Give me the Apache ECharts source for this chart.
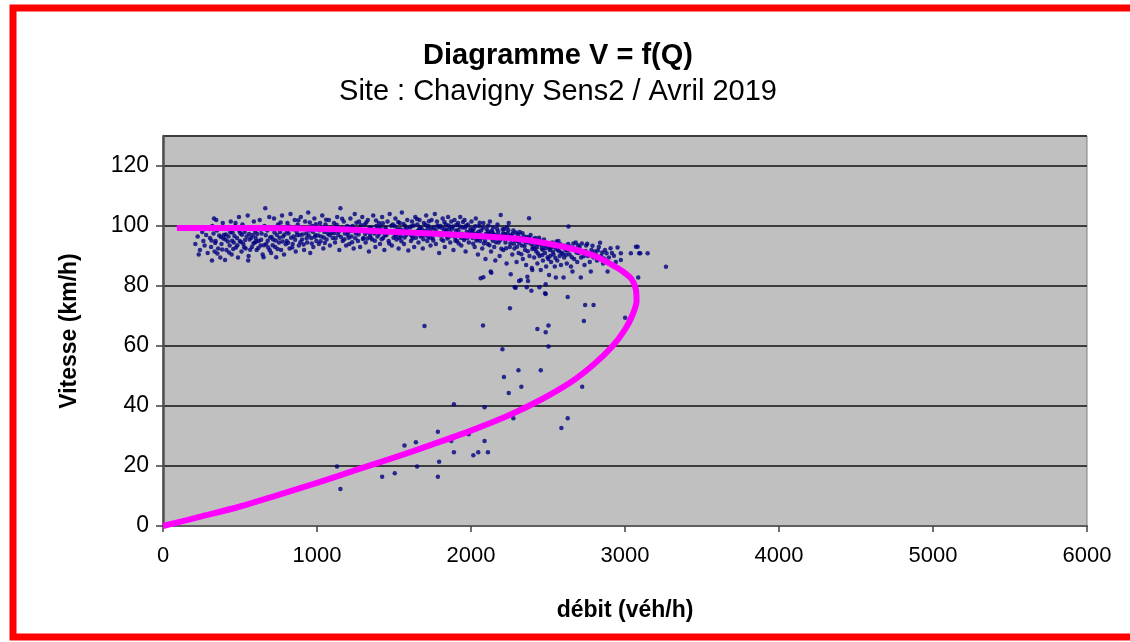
<!DOCTYPE html>
<html>
<head>
<meta charset="utf-8">
<title>Diagramme V = f(Q)</title>
<script src="https://cdn.jsdelivr.net/npm/echarts@6/dist/echarts.min.js"></script>
<style>
  html, body { margin: 0; padding: 0; background: #fff; }
  #chart { width: 1130px; height: 642px; }
</style>
</head>
<body>
<div id="chart"></div>
<script>
// axes
var xTicks = [0, 1000, 2000, 3000, 4000, 5000, 6000];
var yTicks = [0, 20, 40, 60, 80, 100, 120];

// mesures : [débit (véh/h), vitesse (km/h)] - nuage fluide
var freeFlowPoints = [
  [210,94],[225,96.5],[240,92],[255,98],[262,95],[270,93.5],[280,97],[290,91],[295,99.5],[232,90.5],
  [305,96],[312,93],[320,100],[328,97.5],[335,91.5],[342,95],[350,98.5],[358,92.5],[365,96.8],[372,89.5],[380,94],[388,101],[395,97],[318,88.5],[346,102],
  [403,88.7],[405,95.5],[412,92],[418,99],[425,96.5],[433,93.5],[440,101.5],[446,90.5],[452,97.8],[460,94.5],[468,99.8],[474,92.8],[480,96],[487,89.5],[493,103],[498,95],
  [503,97.5],[510,91.5],[516,100.5],[522,94],[530,98],[537,92.5],[543,96.5],[550,103.5],[556,90],[562,95.5],[570,99],[577,93],[584,97],[590,101.5],[596,94.5],[553,88.5],
  [602,96],[608,92],[615,99.5],[621,95],[628,102],[634,93.5],[640,97.5],[647,90.5],[653,89.6],[659,100],[664,105.9],[670,94],[677,98.5],[683,92.8],[690,103],[696,96.2],
  [702,91],[708,99],[715,95.5],[721,102.5],[728,93],[735,89.6],[740,97],[747,100.5],[753,94.5],[760,98],[767,92],[773,103.5],[780,96.5],[786,90.5],[793,99.5],
  [803,95],[808,101],[815,97.5],[822,92.5],[828,104],[835,99],[842,94],[848,96.5],[855,102],[862,91.5],[868,98],[875,100.5],[882,93.5],[888,97],[895,103],
  [903,95.5],[910,99.5],[916,92],[923,101.5],[930,97.5],[936,94.5],[943,104.5],[950,98.5],[956,91],[963,96],[970,100],[976,93],[983,102.5],[990,97],[996,95],
  [1005,99],[1012,94],[1020,101],[1027,96.5],[1034,103.5],[1041,92.5],[1048,98],[1055,100.5],[1062,95.5],[1070,97.5],[1077,102],[1084,93.5],[1092,99.5],
  [1102,96],[1110,101],[1117,94.5],[1124,98.5],[1131,103],[1138,97],[1145,92],[1152,105.9],[1160,99.5],[1167,95],[1174,101.5],[1181,97.5],[1189,93.5],[1196,100],
  [1203,98],[1210,94],[1217,102.5],[1224,96.5],[1231,100],[1238,92.5],[1245,104],[1252,97.5],[1259,99],[1266,95],[1273,101.5],[1280,93],[1287,98.5],[1294,103],
  [1302,96],[1309,100.5],[1316,94.5],[1323,98],[1330,102],[1337,91.5],[1344,97],[1351,99.5],[1358,95.5],[1365,103.5],[1372,97.5],[1379,93],[1386,100],[1393,96.5],
  [1402,101],[1409,94],[1416,98.5],[1423,103],[1430,96],[1437,92],[1444,99.5],[1451,97],[1458,101.5],[1465,95],[1472,104],[1479,98],[1486,93.5],[1493,100.5],
  [1502,97.5],[1509,102.5],[1516,95.5],[1523,99],[1530,92.5],[1537,101],[1544,96.5],[1551,104.5],[1558,98.5],[1565,94],[1572,100],[1579,97],[1586,102],[1593,91.8],
  [1603,99.5],[1610,95],[1617,101.5],[1624,97.5],[1631,93],[1638,103],[1645,98],[1652,100.5],[1659,94.5],[1666,102],[1673,96.5],[1680,99],[1687,92.5],[1694,101],
  [1702,97],[1709,103.5],[1716,95],[1723,100],[1730,98],[1737,93.5],[1744,102],[1751,96],[1758,99.5],[1765,104],[1772,94],[1779,101.5],[1786,97.5],[1793,91],
  [1802,100],[1809,95.5],[1816,102.5],[1823,98],[1830,93],[1837,100.5],[1844,96.5],[1851,103],[1858,99],[1865,94.5],[1872,101.5],[1879,97],[1886,92],[1893,102],
  [1902,98.5],[1909,95],[1916,101],[1923,97],[1930,103],[1937,93.5],[1944,99.5],[1951,96],[1958,102],[1965,91.5],[1972,98],[1979,100.5],[1986,94.5],[1993,97.5],
  [2003,101.5],[2010,96],[2017,99],[2024,93],[2031,102.5],[2038,97.5],[2045,90.5],[2052,100],[2059,95],[2066,98.5],[2073,92.5],[2080,101],[2087,96.5],[2094,89],
  [2102,99],[2109,94],[2116,97.5],[2123,101.5],[2130,91.5],[2137,96],[2144,99.5],[2151,93],[2158,88.5],[2165,97],[2172,100.5],[2179,94.5],[2186,90],[2193,103.7],
  [2203,96.5],[2210,92],[2217,99],[2224,94.5],[2231,87.5],[2238,97.5],[2245,101],[2252,93],[2261,95.5],[2268,90.5],[2275,98.5],[2282,92.5],[2289,96],[2296,88],
  [2302,95],[2309,91],[2316,98],[2330,93.5],[2337,89],[2344,96.5],[2351,92],[2358,87],[2372,94.5],[2377,102.6],[2380,90],[2387,97],[2395,86],
  [2403,93],[2410,89.5],[2417,96],[2424,91.5],[2431,87.5],[2438,94],[2445,90],[2460,92.5],[2467,88.5],[2474,95.5],[2481,91],[2488,86.5],[2495,93.5],
  [2502,89],[2512,92],[2520,88],[2528,94.5],[2536,90.5],[2544,86.5],[2552,92.5],[2560,88.5],[2568,95],[2576,90],[2584,87],[2592,93],
  [2605,89.5],[2614,92],[2622,87.5],[2631,94],[2633,99.8],[2640,90.5],[2649,86.5],[2660,92.5],[2670,89],[2680,94.5],[2690,88],[2698,91],
  [2705,93],[2715,89.5],[2726,91.5],[2737,87],[2748,93.5],[2760,90],[2771,88],[2782,92],[2795,89.5],
  [2805,91.5],[2818,88.5],[2830,93],[2845,90],[2858,87.5],[2870,92],[2895,89.5],
  [2915,91],[2940,88],[2973,88.7],[2973,90.9],[3038,90.9],[3071,93.1],[3082,93.1],[3092,90.9],[3099,90.9],[3147,90.9]
];

// mesures : nuage fluide, cœur dense
var freeFlowCore = [
  [302,99],[315,95.2],[331,102.5],[339,94.3],[353,90.8],[361,99.6],[376,96.3],[384,92.2],[392,95.8],
  [408,97.2],[421,94.8],[429,91.2],[437,97.9],[449,95.1],[456,92.3],[464,96.7],[471,101],[483,93.6],[496,98.3],
  [506,94.7],[513,97.1],[527,92.9],[533,95.3],[546,99.2],[559,97.3],[566,92.1],[573,96.1],[587,94.2],[599,98.1],
  [605,94.8],[612,97.3],[619,92.7],[631,98.8],[637,95.4],[644,99.1],[656,93.6],[667,96.9],[680,95.1],[693,91.9],
  [705,96.3],[712,93.6],[724,97.8],[731,95.2],[744,92.3],[757,96.1],[764,101.2],[776,94.8],[789,97.2],[797,93.9],
  [806,98.2],[812,94.4],[819,99.8],[832,96.1],[839,92.8],[852,98.9],[858,95.4],[871,96.9],[879,101.9],[892,94.6],
  [906,97.2],[913,93.8],[926,99.1],[933,95.9],[946,96.8],[953,101.2],[966,94.2],[973,98.1],[986,96.3],[993,100.6],
  [1008,96.8],[1016,98.6],[1023,94.9],[1031,99.6],[1044,96.2],[1051,94.3],[1059,102.1],[1066,98.8],[1081,96.9],[1095,97.6],
  [1106,99.2],[1113,97.6],[1121,95.9],[1128,100.4],[1142,98.2],[1156,96.3],[1163,102.4],[1178,95.6],[1185,99.1],[1199,97.1],
  [1206,96.1],[1213,99.7],[1221,98.3],[1228,94.6],[1242,99.1],[1249,95.9],[1256,101.1],[1270,97.2],[1284,100.3],[1298,95.7],
  [1305,98.4],[1313,97.3],[1320,101.2],[1327,95.8],[1341,99.4],[1348,96.2],[1362,98.7],[1376,95.1],[1383,101.8],[1397,98.9],
  [1405,97.4],[1413,99.8],[1420,95.6],[1427,100.9],[1441,96.8],[1448,98.8],[1462,97.9],[1469,94.2],[1483,100.1],[1497,96.1],
  [1505,99.9],[1512,96.7],[1520,97.3],[1527,101.3],[1541,98.9],[1548,94.9],[1562,100.7],[1569,96.2],[1583,99.3],[1597,97.8],
  [1606,97.2],[1614,99.9],[1621,95.8],[1628,100.2],[1642,96.1],[1649,102.3],[1656,98.4],[1670,99.6],[1684,96.8],[1698,98.3],
  [1705,100.4],[1713,97.9],[1720,96.4],[1727,101.6],[1741,99.1],[1748,97.1],[1755,95.2],[1769,98.6],[1783,100.2],[1797,96.9],
  [1806,97.4],[1813,99.3],[1820,95.1],[1827,101.3],[1841,98.3],[1848,95.8],[1855,100.2],[1869,97.7],[1883,99.8],[1897,96.2],
  [1905,100.3],[1913,97.1],[1920,94.2],[1927,99.8],[1941,97.4],[1948,101.3],[1955,95.3],[1969,100.1],[1983,96.7],[1997,99.2],
  [2006,98.4],[2014,94.1],[2021,97.2],[2028,99.9],[2042,95.6],[2049,98.1],[2056,101.1],[2070,96.1],[2084,94.2],[2098,97.4],
  [2106,96.8],[2113,100.2],[2120,93.6],[2134,98.4],[2141,95.1],[2148,97.2],[2162,94.6],[2169,99.1],[2183,96.8],[2197,92.4],
  [2206,98.9],[2214,95.8],[2221,97.3],[2228,92.6],[2235,99.7],[2249,96.3],[2256,94.2],[2270,97.4],[2285,95.2],[2299,93.1],
  [2305,97.2],[2313,94.3],[2320,96.1],[2327,90.6],[2341,95.2],[2348,93.3],[2362,96.3],[2369,91.6],[2383,94.8],[2398,92.3],
  [2406,95.6],[2414,92.4],[2421,94.1],[2435,90.8],[2442,96.1],[2456,93.7],[2463,90.3],[2470,94.6],[2484,92.6],[2498,89.6],
  [2505,94.1],[2516,90.1],[2524,92.9],[2540,93.2],[2548,89.3],[2556,94.8],[2572,91.6],[2580,93.9],[2596,90.7],
  [2608,93.4],[2618,90.4],[2627,91.8],[2645,93.1],[2655,89.6],[2665,94.2],[2685,91.2],[2695,93.6],
  [2710,91.3],[2720,94.2],[2732,89.9],[2744,91.7],[2755,94.1],[2766,90.8],[2789,93.4],
  [2812,90.3],[2824,91.8],[2838,94.4],[2852,91.2],[2864,89.2],[2880,90.9],
  [2906,92.6],[2928,90.1],[2952,92.8],
  [1511,98.1],[1534,95.9],[1575,98.6],[1618,96.6],[1663,98.9],[1691,95.6],[1718,99.3],[1734,96.1],[1762,97.6],[1790,99.6],
  [1811,96.9],[1834,98.9],[1862,96.6],[1876,99.1],[1899,95.1],[1918,98.6],[1934,96.1],[1962,99.4],[1976,95.9],[1991,98.2],
  [2012,97.8],[2035,95.2],[2061,97.1],[2077,99.4],[2091,95.1],[2111,98.1],[2139,97.9],[2155,96.1],[2176,98.2],[2190,95.3],
  [2208,97.6],[2226,95.9],[2242,98.6],[2259,96.9],[2278,94.1],[2292,97.8],[2318,95.4],[2334,97.6],[2355,94.6],[2376,96.1],
  [2392,93.9],[2412,94.9],[2428,92.9],[2449,95.1],[2466,92.1],[2479,93.6],[2509,92.6],[2532,91.4],[2562,92.1],[2588,91.1]
];

// mesures de transition (75-88 km/h)
var transitionPoints = [
  [2063,82.6],[2080,82.9],[2128,84.8],[2132,84.4],[2258,83.9],[2290,79.4],[2323,82],[2366,83.1],[2398,85.3],
  [2453,85.3],[2507,83.7],[2551,82.8],[2601,82.8],[2659,84.8],[2713,82.8],[2778,84.8],[2887,84.8],
  [3086,82.8],[3266,86.4],[2312,81.7],[2370,81.7],[2284,79.6],[2362,79.6],[2392,78.4],[2444,79.6],
  [2485,80.6],[2485,77.3],[2481,77.6],[2628,76.3]
];

// mesures congestionnées
var congestedPoints = [
  [2253,72.6],[2741,73.7],[2796,73.7],[3001,69.4],[2733,68.3],[2078,66.8],[1698,66.7],[2431,65.7],[2503,66.8],
  [2485,64.6],[2204,58.9],[2503,59.8],[2308,51.9],[2453,51.9],[2214,49.7],[2327,46.4],[2245,44.3],[2722,46.4],
  [1889,40.6],[2088,39.6],[2275,35.9],[2628,35.9],[2587,32.7],[1985,30.6],[1872,28.3],[2088,28.3],[1889,24.6],
  [2015,23.6],[2047,24.6],[2110,24.6],[1130,19.8],[1152,12.3],[1423,16.4],[1505,17.6],[1568,26.8],[1642,27.9],
  [1650,19.8],[1785,31.4],[1793,21.4],[1785,16.4]
];

// courbe d'ajustement V = f(Q)
var fitCurve = [
  [0,0],[250,3.2],[500,6.5],[750,10.4],[1000,14.4],[1250,18.6],[1500,22.8],[1750,27.2],[2000,31.8],
  [2250,37],[2450,42],[2650,48],[2800,54],[2920,60],[3000,65.5],[3050,70.5],[3075,75],[3070,79],[3040,82.5],
  [2973,85.3],[2900,87.5],[2822,89.6],[2700,91.8],[2600,93.1],[2450,94.6],[2280,95.8],[2100,96.5],
  [1867,97.2],[1600,97.8],[1432,98.2],[1200,98.8],[1000,99.1],[600,99.3],[90,99.3]
];

var chart = echarts.init(document.getElementById('chart'));
var dotColor = '#000080';
var gridDark = '#3c3c3c';

function dots(name, data) {
  return {
    name: name, type: 'scatter', data: data,
    symbol: 'circle', symbolSize: 4.5, itemStyle: { color: dotColor }, z: 2
  };
}

var option = {
  animation: false,
  backgroundColor: '#ffffff',
  textStyle: { fontFamily: 'Liberation Sans, Arial, sans-serif', color: '#000' },
  title: [
    {
      text: 'Diagramme V = f(Q)',
      left: 553, top: 36, textAlign: 'center',
      textStyle: { fontSize: 29, fontWeight: 'bold', color: '#000', fontFamily: 'Liberation Sans' }
    },
    {
      text: 'Site : Chavigny Sens2 / Avril 2019',
      left: 553, top: 72, textAlign: 'center',
      textStyle: { fontSize: 29, fontWeight: 'normal', color: '#000', fontFamily: 'Liberation Sans' }
    }
  ],
  graphic: [
    {
      type: 'rect', z: 100, silent: true,
      shape: { x: 13, y: 8, width: 1200, height: 629 },
      style: { fill: 'none', stroke: '#ff0000', lineWidth: 7 }
    }
  ],
  grid: {
    left: 163, right: 43, top: 136, bottom: 116,
    show: true, backgroundColor: '#c0c0c0', borderColor: '#808080', borderWidth: 1
  },
  xAxis: {
    type: 'value', min: 0, max: 6000, interval: 1000,
    name: 'débit (véh/h)', nameLocation: 'middle', nameGap: 73,
    nameTextStyle: { fontSize: 23, fontWeight: 'bold', color: '#000' },
    axisLine: { show: true, lineStyle: { color: '#606060', width: 2 } },
    axisTick: { show: true, inside: false, length: 6, lineStyle: { color: '#404040', width: 1.5 } },
    axisLabel: {
      fontSize: 22, color: '#000', margin: 19,
      formatter: function (v) { return xTicks.indexOf(v) >= 0 ? String(v) : ''; }
    },
    splitLine: { show: false }
  },
  yAxis: {
    type: 'value', min: 0, max: 130, interval: 20,
    name: 'Vitesse (km/h)', nameLocation: 'middle', nameGap: 82,
    nameTextStyle: { fontSize: 23, fontWeight: 'bold', color: '#000' },
    axisLine: { show: true, lineStyle: { color: '#505050', width: 2.5 } },
    axisTick: { show: true, inside: false, length: 7, lineStyle: { color: '#404040', width: 1.5 } },
    axisLabel: {
      fontSize: 23, color: '#000', margin: 14, showMaxLabel: false,
      formatter: function (v) { return yTicks.indexOf(v) >= 0 ? String(v) : ''; }
    },
    splitLine: { show: true, lineStyle: { color: gridDark, width: 2 } }
  },
  series: [
    dots('fluide', freeFlowPoints),
    dots('fluide dense', freeFlowCore),
    dots('transition', transitionPoints),
    dots('congestion', congestedPoints),
    {
      name: 'V = f(Q)', type: 'line', data: fitCurve,
      showSymbol: false, symbol: 'none', smooth: 0.3,
      lineStyle: { color: '#ff00ff', width: 6 }, z: 5
    }
  ]
};

chart.setOption(option);
window.addEventListener('resize', chart.resize);
</script>
</body>
</html>
